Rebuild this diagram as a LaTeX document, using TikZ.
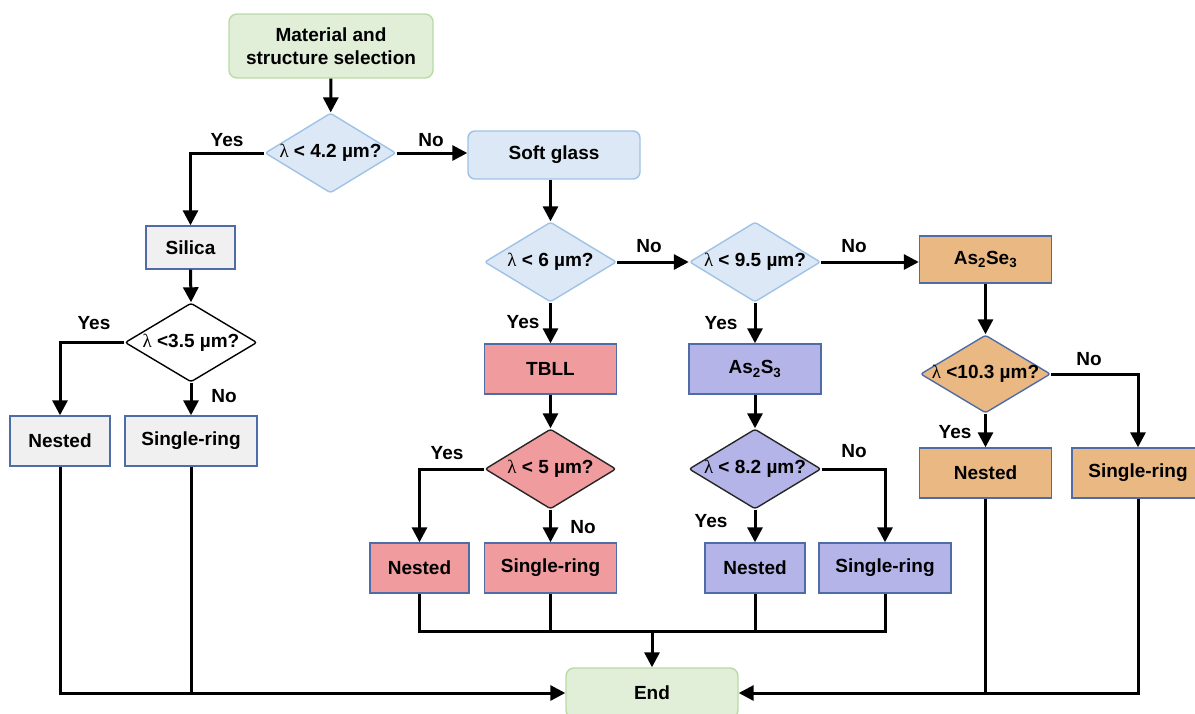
\documentclass[tikz,border=0pt]{standalone}
\usepackage{fontspec}
\setmainfont{Liberation Sans}
\newfontfamily\lamfont{Liberation Serif}
\usetikzlibrary{shapes.geometric,arrows.meta}
\definecolor{greenF}{RGB}{225,239,217}
\definecolor{greenD}{RGB}{185,219,163}
\definecolor{blueF}{RGB}{220,232,245}
\definecolor{blueD}{RGB}{158,195,230}
\definecolor{grayF}{RGB}{240,240,240}
\definecolor{boxD}{RGB}{78,108,166}
\definecolor{pinkF}{RGB}{240,155,158}
\definecolor{lavF}{RGB}{180,180,232}
\definecolor{tanF}{RGB}{234,184,130}
\newcommand{\lam}{{\lamfont\mdseries λ}}
\begin{document}
\begin{tikzpicture}[x=1pt,y=-1pt,
  every node/.style={font=\fontsize{19}{23}\selectfont\bfseries, inner sep=0pt, line width=1.4pt},
  greenbox/.style={rectangle, rounded corners=8pt, fill=greenF, draw=greenD, align=center},
  bluebox/.style={rectangle, rounded corners=7pt, fill=blueF, draw=blueD},
  sqbox/.style={rectangle, draw=boxD},
  dia/.style={diamond, rounded corners=2.5pt, minimum width=131pt, minimum height=80pt},
  lbl/.style={font=\fontsize{19}{23}\selectfont\bfseries},
  conn/.style={line width=3pt, line join=miter},
  arr/.style={conn, -{Triangle[length=15pt,width=15pt]}}
]
\useasboundingbox (0,0) rectangle (1195,713);
% nodes
\node[greenbox, minimum width=204pt, minimum height=64pt] (start) at (331,46) {Material and\\structure selection};
\node[dia, fill=blueF, draw=blueD] (d1) at (330.5,153) {\makebox[0pt]{\lam{} < 4.2 µm?}};
\node[bluebox, minimum width=172pt, minimum height=48pt] (soft) at (554,155) {Soft glass};
\node[sqbox, fill=grayF, minimum width=89pt, minimum height=43pt] (silica) at (190.5,247.5) {Silica};
\node[dia, fill=white, draw=black, minimum width=132pt, minimum height=79pt] (d2) at (191,342.5) {\makebox[0pt]{\lam{} <3.5 µm?}};
\node[sqbox, fill=grayF, minimum width=100pt, minimum height=50pt] (sn) at (60,441) {Nested};
\node[sqbox, fill=grayF, minimum width=132pt, minimum height=50pt] (ss) at (191,441) {Single-ring};
\node[dia, fill=blueF, draw=blueD, minimum width=132pt] (d3) at (550.5,262) {\makebox[0pt]{\lam{} < 6 µm?}};
\node[dia, fill=blueF, draw=blueD] (d4) at (755,262) {\makebox[0pt]{\lam{} < 9.5 µm?}};
\node[sqbox, fill=tanF, minimum width=132pt, minimum height=47pt] (ase) at (985.5,259.5) {As\textsubscript{2}Se\textsubscript{3}};
\node[sqbox, fill=pinkF, minimum width=132pt, minimum height=50pt] (tbll) at (550.5,369) {TBLL};
\node[sqbox, fill=lavF, minimum width=132pt, minimum height=50pt] (ass) at (755,369) {As\textsubscript{2}S\textsubscript{3}};
\node[dia, fill=pinkF, draw=black!85] (d5) at (550.5,469) {\makebox[0pt]{\lam{} < 5 µm?}};
\node[dia, fill=lavF, draw=black!85, minimum width=132pt] (d6) at (755,469) {\makebox[0pt]{\lam{} < 8.2 µm?}};
\node[sqbox, fill=pinkF, minimum width=99pt, minimum height=50pt] (pn) at (419.5,568) {Nested};
\node[sqbox, fill=pinkF, minimum width=132pt, minimum height=50pt] (ps) at (550.5,568) {Single-ring};
\node[sqbox, fill=lavF, minimum width=100pt, minimum height=50pt] (vn) at (755,568) {Nested};
\node[sqbox, fill=lavF, minimum width=132pt, minimum height=50pt] (vs) at (885,568) {Single-ring};
\node[dia, fill=tanF, draw=boxD, minimum width=130pt, minimum height=78pt] (d7) at (985.5,374) {\makebox[0pt]{\lam{} <10.3 µm?}};
\node[sqbox, fill=tanF, minimum width=132pt, minimum height=50pt] (on) at (985.5,473) {Nested};
\node[sqbox, fill=tanF, minimum width=132pt, minimum height=50pt] (os) at (1138,473) {Single-ring};
\node[greenbox, minimum width=172pt, minimum height=50pt] (end) at (652,693) {End};
\coordinate (bus) at (652,631);
% connectors
\draw[arr] (start) -- (d1);
\draw[arr] (d1.west) -| (silica.north);
\draw[arr] (d1.east) -- (d1.east -| soft.west);
\draw[arr] (d3.north |- soft.south) -- (d3.north);
\draw[arr] (d3.east) -- (d4.west);
\draw[arr] (d4.east) -- (d4.east -| ase.west);
\draw[arr] (d3.south) -- (tbll.north);
\draw[arr] (d4.south) -- (ass.north);
\draw[arr] (tbll.south) -- (d5.north);
\draw[arr] (ass.south) -- (d6.north);
\draw[arr] (d5.west) -| (pn.north);
\draw[arr] (d5.south) -- (ps.north);
\draw[arr] (d6.south) -- (vn.north);
\draw[arr] (d6.east) -| (vs.north);
\draw[arr] (ase.south) -- (d7.north);
\draw[arr] (d7.south) -- (on.north);
\draw[arr] (d7.east) -| (os.north);
\draw[arr] (silica.south) -- (d2.north);
\draw[arr] (d2.west) -| (sn.north);
\draw[arr] (d2.south) -- (ss.north);
\draw[arr] (sn.south) |- (end.west);
\draw[conn] (ss.south) -- (ss.south |- end.west);
\draw[arr] (os.south) |- (end.east);
\draw[conn] (on.south) -- (on.south |- end.east);
\draw[conn] (pn.south) -- (pn.south |- bus) -- (vs.south |- bus) -- (vs.south);
\draw[conn] (ps.south) -- (ps.south |- bus);
\draw[conn] (vn.south) -- (vn.south |- bus);
\draw[arr] (bus) -- (end.north);
% labels
\node[lbl] (l1) at (227,140) {Yes};
\node[lbl] (l2) at (431,140) {No};
\node[lbl] (l3) at (94,323) {Yes};
\node[lbl] (l4) at (224,396) {No};
\node[lbl] (l5) at (649,246) {No};
\node[lbl] (l6) at (523,322) {Yes};
\node[lbl] (l7) at (721,323) {Yes};
\node[lbl] (l8) at (854,246) {No};
\node[lbl] (l9) at (447,453) {Yes};
\node[lbl] (l10) at (583,527) {No};
\node[lbl] (l11) at (854,451) {No};
\node[lbl] (l12) at (711,521) {Yes};
\node[lbl] (l13) at (955,432) {Yes};
\node[lbl] (l14) at (1089,359) {No};
\end{tikzpicture}
\end{document}
